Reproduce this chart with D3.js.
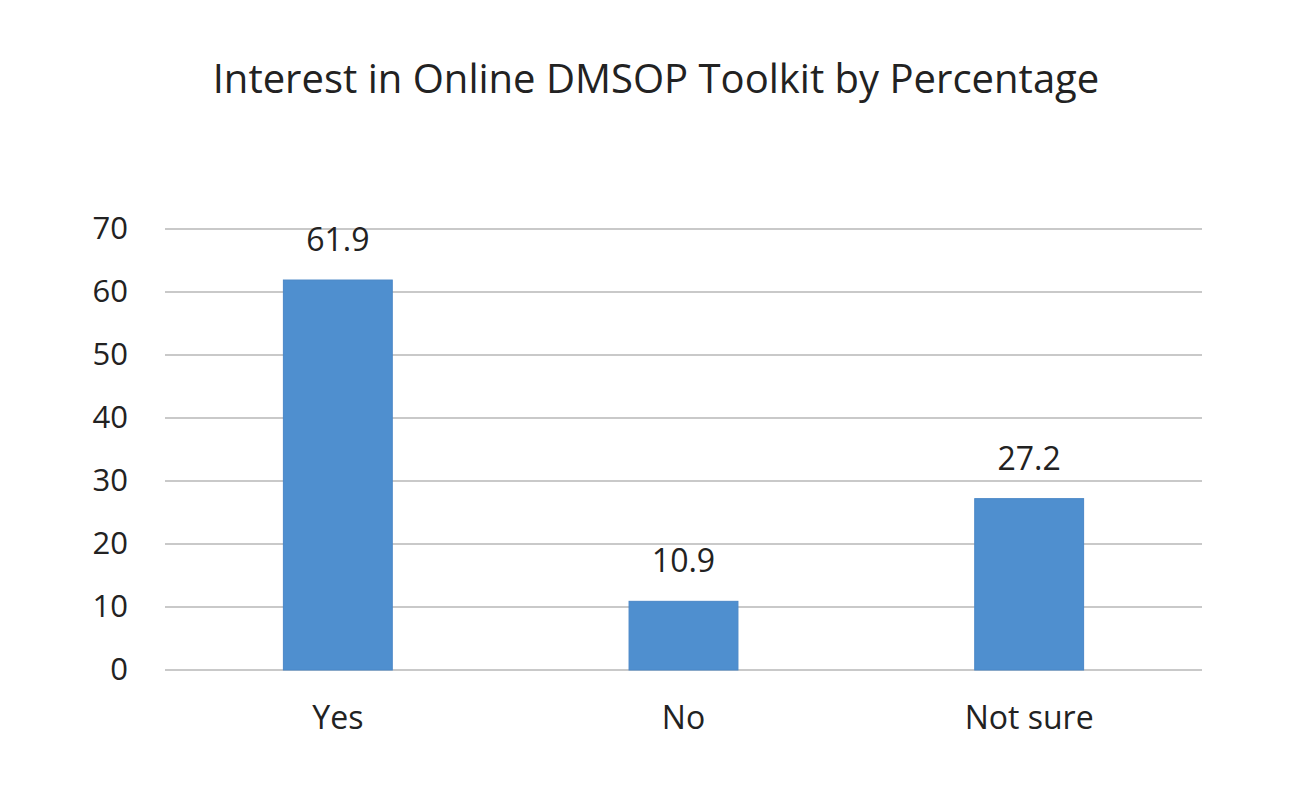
<!DOCTYPE html>
<html>
<head>
<meta charset="utf-8">
<script src="https://cdn.jsdelivr.net/npm/d3@7"></script>
<style>
  html, body { margin: 0; padding: 0; background: #ffffff; }
  svg { display: block; }
</style>
</head>
<body>
<svg id="chart" width="1315" height="790"></svg>
<script>
const titleText = "Interest in Online DMSOP Toolkit by Percentage";
const categories = ["Yes", "No", "Not sure"];
const values = [61.9, 10.9, 27.2];
const yTicks = [0, 10, 20, 30, 40, 50, 60, 70];

const W = 1315, H = 790;
const margin = { left: 165, right: 113, top: 229, bottom: 120 };
const plotW = W - margin.left - margin.right;
const plotH = H - margin.top - margin.bottom;
const FONT = "'Open Sans', 'Noto Sans', sans-serif";
const textColor = "#222222";

const svg = d3.select("#chart");

svg.append("rect").attr("width", W).attr("height", H).attr("fill", "#ffffff");

const x = d3.scaleBand().domain(categories).range([0, plotW]).padding(0);
const y = d3.scaleLinear().domain([0, 70]).range([plotH, 0]);

const g = svg.append("g").attr("transform", `translate(${margin.left},${margin.top})`);

// gridlines
g.append("g")
  .selectAll("line")
  .data(yTicks)
  .join("line")
  .attr("x1", 0).attr("x2", plotW)
  .attr("y1", d => y(d)).attr("y2", d => y(d))
  .attr("stroke", "#c9c9c9")
  .attr("stroke-width", 2);

// y axis labels
const yAxis = d3.axisLeft(y).tickValues(yTicks).tickSize(0).tickPadding(37);
const ya = g.append("g").call(yAxis);
ya.select(".domain").remove();
ya.selectAll("text")
  .attr("font-family", FONT)
  .attr("font-size", 31)
  .attr("fill", textColor);

// bars
const barFrac = 0.315;
const bw = x.bandwidth() * barFrac;
g.append("g")
  .selectAll("rect")
  .data(values)
  .join("rect")
  .attr("x", (d, i) => x(categories[i]) + (x.bandwidth() - bw) / 2)
  .attr("y", d => y(d))
  .attr("width", bw)
  .attr("height", d => y(0) - y(d))
  .attr("fill", "#4f8fcf")
  .attr("stroke", "#4a87c7")
  .attr("stroke-width", 1);

// value labels
g.append("g")
  .selectAll("text")
  .data(values)
  .join("text")
  .attr("x", (d, i) => x(categories[i]) + x.bandwidth() / 2)
  .attr("y", d => y(d) - 29)
  .attr("text-anchor", "middle")
  .attr("font-family", FONT)
  .attr("font-size", 32)
  .attr("fill", textColor)
  .text(d => d.toFixed(1));

// x axis labels
const xAxis = d3.axisBottom(x).tickSize(0).tickPadding(36);
const xa = g.append("g").attr("transform", `translate(0,${plotH})`).call(xAxis);
xa.select(".domain").remove();
xa.selectAll("text")
  .attr("font-family", FONT)
  .attr("font-size", 32)
  .attr("fill", textColor);

// title
const title = svg.append("text")
  .attr("x", 656)
  .attr("y", 93)
  .attr("text-anchor", "middle")
  .attr("font-family", FONT)
  .attr("font-size", 38)
  .attr("fill", textColor)
  .text(titleText);
const tw = title.node().getComputedTextLength();
title.attr("font-size", 38 * 887 / tw);
</script>
</body>
</html>
